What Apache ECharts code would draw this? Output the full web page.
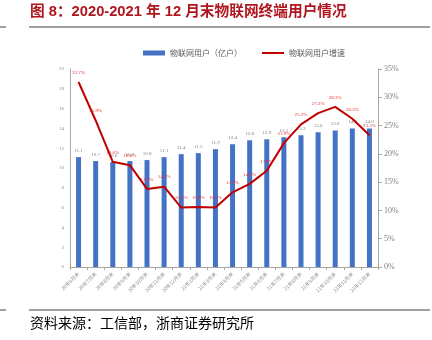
<!DOCTYPE html>
<html><head><meta charset="utf-8">
<script src="https://cdn.jsdelivr.net/npm/echarts@6/dist/echarts.min.js"></script>
<style>html,body{margin:0;padding:0;background:#fff}#c{width:432px;height:340px}</style>
</head><body><div id="c"></div>
<script>
var categories = ['20年6月末','20年7月末','20年8月末','20年9月末','20年10月末','20年11月末','20年12月末','21年2月末','21年3月末','21年4月末','21年5月末','21年6月末','21年7月末','21年8月末','21年9月末','21年10月末','21年11月末','21年12月末'];
var users = [11.1,10.7,10.6,10.7,10.8,11.1,11.4,11.5,11.9,12.4,12.8,12.9,13.1,13.3,13.6,13.8,14.0,14.0];
var growth = [32.7,25.9,18.6,18.0,13.8,14.2,10.5,10.6,10.5,13.2,14.7,17.0,21.9,25.2,27.2,28.3,26.2,23.3];
var leftTicks = [0,2,4,6,8,10,12,14,16,18,20];
var rightTicks = [0,5,10,15,20,25,30,35];
var seriesNames = ['物联网用户（亿户）','物联网用户增速'];
var titleText = '图 8：2020-2021 年 12 月末物联网终端用户情况';
var sourceText = '资料来源：工信部，浙商证券研究所';

var chart = echarts.init(document.getElementById('c'), null, {renderer:'canvas'});
var sans = '"Noto Sans CJK SC","Noto Sans",sans-serif';
var serif = '"Liberation Serif","DejaVu Serif",serif';
chart.setOption({
  animation:false,
  backgroundColor:'#fff',
  grid:{left:70,right:54,top:69,bottom:73},
  legend:{
    top:44,left:138,itemGap:20,itemWidth:22,itemHeight:5,
    textStyle:{fontSize:8,color:'#595959',fontFamily:sans},
    data:[{name:seriesNames[0],icon:'rect'},{name:seriesNames[1],icon:'path://M0,0 L22,0 L22,2 L0,2 Z',itemStyle:{color:'#C00000'}}]
  },
  xAxis:{
    type:'category',data:categories,
    axisLine:{lineStyle:{color:'#A6A6A6',width:1}},
    axisTick:{show:true,alignWithLabel:false,length:3,lineStyle:{color:'#A6A6A6'}},
    axisLabel:{interval:0,rotate:45,fontSize:5,color:'#8C8C8C',fontFamily:sans,margin:6}
  },
  yAxis:[{
    type:'value',min:leftTicks[0],max:leftTicks[leftTicks.length-1],interval:2,
    splitLine:{show:false},
    axisLine:{show:true,lineStyle:{color:'#A6A6A6'}},
    axisTick:{show:false},
    axisLabel:{fontSize:5,color:'#8C8C8C',fontFamily:serif,margin:6}
  },{
    type:'value',min:rightTicks[0],max:rightTicks[rightTicks.length-1],interval:5,
    splitLine:{show:false},
    axisLine:{show:true,lineStyle:{color:'#A6A6A6'}},
    axisTick:{show:true,length:4,lineStyle:{color:'#A6A6A6'}},
    axisLabel:{fontSize:8,color:'#808080',fontFamily:serif,margin:6,formatter:'{value}%'}
  }],
  series:[{
    name:seriesNames[0],type:'bar',data:users,barWidth:5,
    itemStyle:{color:'#4472C4'},
    label:{show:true,position:'top',fontSize:5,color:'#7F7F7F',fontFamily:serif,distance:4,
      formatter:function(p){return p.value.toFixed(1);}}
  },{
    name:seriesNames[1],type:'line',yAxisIndex:1,data:growth,
    symbol:'circle',symbolSize:0.1,showSymbol:true,smooth:false,
    lineStyle:{color:'#C00000',width:2},itemStyle:{color:'#C00000'},
    label:{show:true,position:'top',fontSize:5,color:'#E03030',fontFamily:serif,distance:7,
      formatter:function(p){return p.value.toFixed(1)+'%';}}
  }],
  graphic:[
    {type:'text',left:30,top:5,style:{text:titleText,fill:'#B0161E',font:'bold 14.7px "Liberation Sans","Noto Sans CJK SC",sans-serif'}},
    {type:'line',shape:{x1:29,y1:27,x2:430,y2:27},style:{stroke:'#404040',lineWidth:1}},
    {type:'line',shape:{x1:0,y1:27,x2:6,y2:27},style:{stroke:'#404040',lineWidth:1}},
    {type:'line',shape:{x1:29,y1:310,x2:430,y2:310},style:{stroke:'#404040',lineWidth:1}},
    {type:'line',shape:{x1:0,y1:310,x2:6,y2:310},style:{stroke:'#404040',lineWidth:1}},
    {type:'text',left:30,top:316,style:{text:sourceText,fill:'#000',font:'14px "Noto Sans CJK SC",sans-serif'}}
  ]
});
</script></body></html>
